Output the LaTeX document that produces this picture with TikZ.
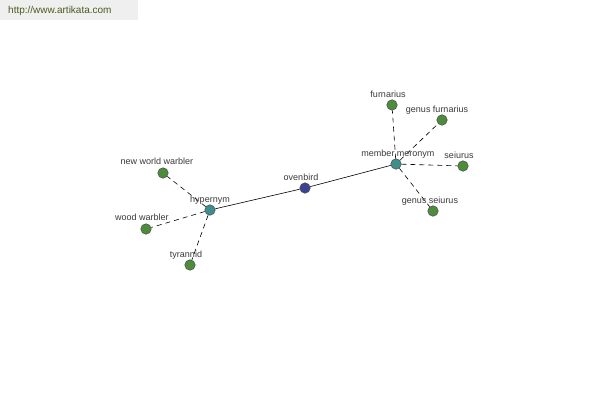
\documentclass[tikz,border=0pt]{standalone}
\usepackage{fontspec}
\setmainfont{Liberation Sans}
\definecolor{leafc}{HTML}{4C8C3C}
\definecolor{hubc}{HTML}{3E8E8E}
\definecolor{rootc}{HTML}{3C4390}
\definecolor{labc}{HTML}{3A3A3A}
\definecolor{bannerc}{HTML}{EFEFEF}
\definecolor{urlc}{HTML}{4A5A1E}
\tikzset{
  dot/.style={circle, draw=black!70, line width=0.5pt, minimum size=10.5pt, inner sep=0pt},
  leaf/.style={dot, fill=leafc},
  hub/.style={dot, fill=hubc},
  root/.style={dot, fill=rootc},
  lab/.style={font=\fontsize{9}{10}\selectfont, text=labc, inner sep=0pt, anchor=base},
  rel/.style={draw=black, line width=0.6pt, dash pattern=on 5pt off 4pt},
  main/.style={draw=black, line width=0.6pt}
}
\begin{document}
\begin{tikzpicture}[x=1pt,y=-1pt]
\useasboundingbox (0,0) rectangle (600,400);
\fill[white] (0,0) rectangle (600,400);
\fill[bannerc] (0,0) rectangle (138,20);
\node[font=\fontsize{10}{11}\selectfont, text=urlc, anchor=west, inner sep=0pt] (url) at (8,11) {http://www.artikata.com};
% nodes
\node[root] (oven) at (305,188) {};
\node[hub] (hyp) at (210,210) {};
\node[hub] (mer) at (396,164) {};
\node[leaf] (nww) at (163,173) {};
\node[leaf] (ww) at (146,229) {};
\node[leaf] (tyr) at (190,265) {};
\node[leaf] (fur) at (392,105) {};
\node[leaf] (gfur) at (442,120) {};
\node[leaf] (sei) at (463,166) {};
\node[leaf] (gsei) at (433,211) {};
% edges
\path[main] (hyp) -- (oven);
\path[main] (oven) -- (mer);
\path[rel] (hyp) -- (nww);
\path[rel] (hyp) -- (ww);
\path[rel] (hyp) -- (tyr);
\path[rel] (mer) -- (fur);
\path[rel] (mer) -- (gfur);
\path[rel] (mer) -- (sei);
\path[rel] (mer) -- (gsei);
% labels
\node[lab] (loven) at (301,180) {ovenbird};
\node[lab] (lhyp) at (210,202) {hypernym};
\node[lab] (lmer) at (398,156) {member meronym};
\node[lab] (lnww) at (157,164) {new world warbler};
\node[lab] (lww) at (142,220) {wood warbler};
\node[lab] (ltyr) at (186,257) {tyrannid};
\node[lab] (lfur) at (388,97) {furnarius};
\node[lab] (lgfur) at (437,112) {genus furnarius};
\node[lab] (lsei) at (459,158) {seiurus};
\node[lab] (lgsei) at (430,203) {genus seiurus};
\end{tikzpicture}
\end{document}
